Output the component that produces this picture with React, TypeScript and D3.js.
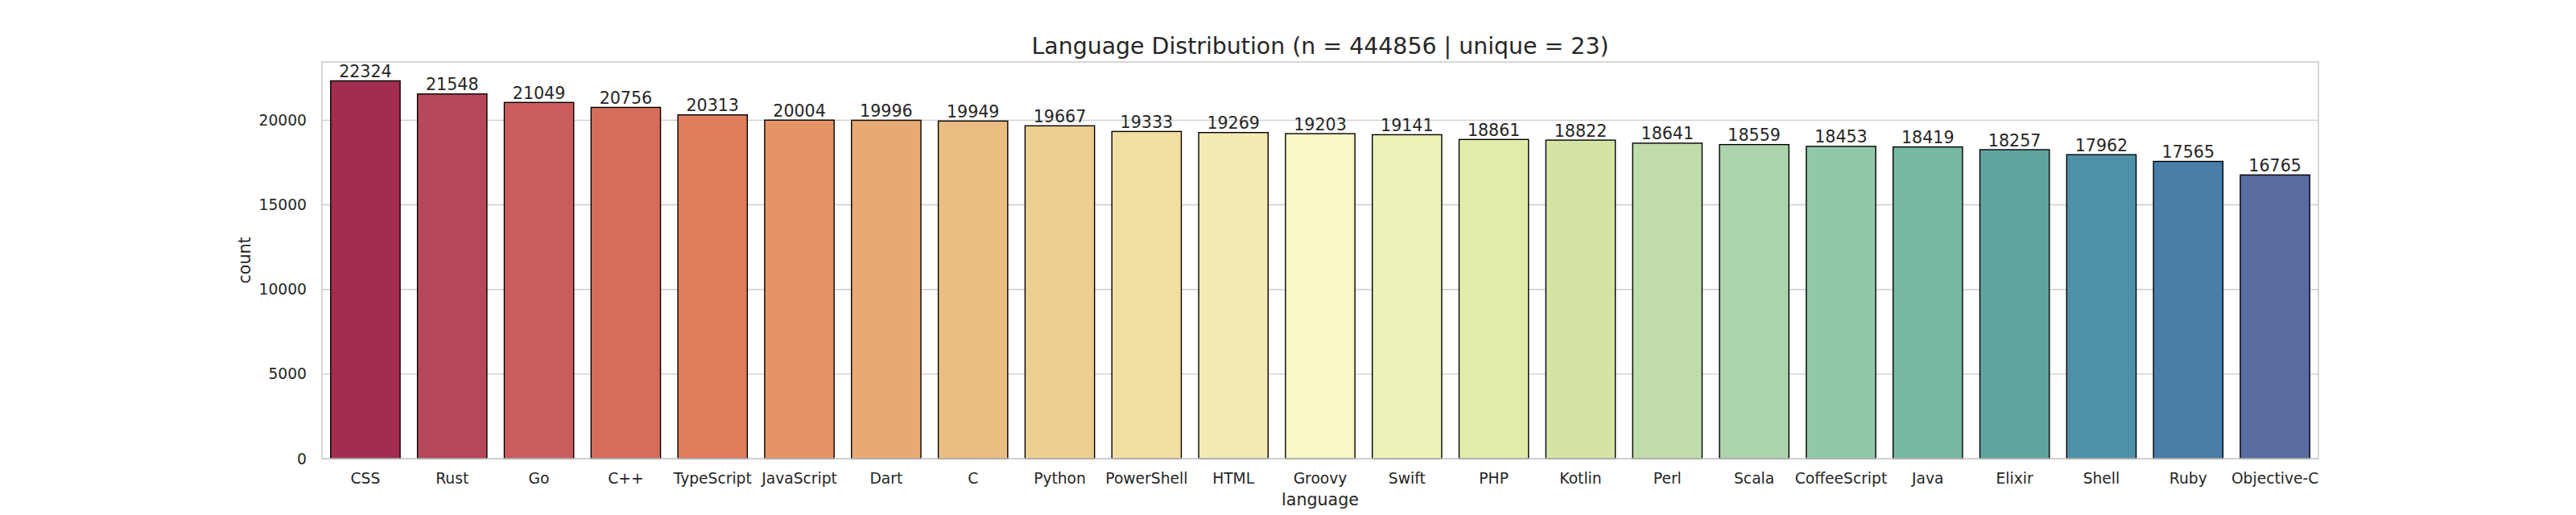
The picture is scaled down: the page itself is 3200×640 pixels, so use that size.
import * as d3 from "d3";
import { useEffect } from "react";

// bar categories and counts
const languages = [
  "CSS", "Rust", "Go", "C++", "TypeScript", "JavaScript", "Dart", "C",
  "Python", "PowerShell", "HTML", "Groovy", "Swift", "PHP", "Kotlin", "Perl",
  "Scala", "CoffeeScript", "Java", "Elixir", "Shell", "Ruby", "Objective-C",
];
const counts = [
  22324, 21548, 21049, 20756, 20313, 20004, 19996, 19949,
  19667, 19333, 19269, 19203, 19141, 18861, 18822, 18641,
  18559, 18453, 18419, 18257, 17962, 17565, 16765,
];
const yTicks = [0, 5000, 10000, 15000, 20000];
const spectral = [
  "#9e0142", "#d53e4f", "#f46d43", "#fdae61", "#fee08b", "#ffffbf",
  "#e6f598", "#abdda4", "#66c2a5", "#3288bd", "#5e4fa2",
];

const title = `Language Distribution (n = ${d3.sum(counts)} | unique = ${languages.length})`;

const width = 3200;
const height = 640;
const marginTop = 77;
const marginRight = 320;
const marginBottom = 70;
const marginLeft = 400;

const textColor = "#262626";
const font = "'DejaVu Sans', sans-serif";

// seaborn-like palette: sample the colormap, then desaturate a bit
const cmap = d3
  .scaleLinear<string>()
  .domain(d3.range(spectral.length).map((i) => i / (spectral.length - 1)))
  .range(spectral)
  .interpolate(d3.interpolateRgb);

function barColor(i: number) {
  const c = d3.hsl(cmap((i + 1) / (languages.length + 1)));
  c.s *= 0.75;
  return c.formatHex();
}

export default function App() {
  useEffect(() => {
    document.body.style.margin = "0";
  }, []);

  const x = d3
    .scaleBand()
    .domain(languages)
    .range([marginLeft, width - marginRight])
    .paddingInner(0.2)
    .paddingOuter(0.1);

  const yMax = d3.max(counts)! * 1.05;
  const y = d3
    .scaleLinear()
    .domain([0, yMax])
    .range([height - marginBottom, marginTop]);

  const left = marginLeft;
  const right = width - marginRight;
  const top = marginTop;
  const bottom = height - marginBottom;

  return (
    <svg width={width} height={height} style={{ display: "block", background: "white" }} fontFamily={font}>
      {/* horizontal grid */}
      {yTicks.map((t) => (
        <line key={t} x1={left} x2={right} y1={y(t)} y2={y(t)} stroke="#cccccc" strokeWidth={1.4} />
      ))}

      {/* bars */}
      {languages.map((lang, i) => (
        <rect
          key={lang}
          x={x(lang)}
          y={y(counts[i])}
          width={x.bandwidth()}
          height={y(0) - y(counts[i])}
          fill={barColor(i)}
          stroke="black"
          strokeWidth={1.4}
        />
      ))}

      {/* bar labels */}
      {languages.map((lang, i) => (
        <text
          key={lang}
          x={x(lang)! + x.bandwidth() / 2}
          y={y(counts[i]) - 4.5}
          textAnchor="middle"
          fontSize={20.6}
          fill={textColor}
        >
          {counts[i]}
        </text>
      ))}

      {/* axes frame */}
      <rect x={left} y={top} width={right - left} height={bottom - top} fill="none" stroke="#cccccc" strokeWidth={1.6} />

      {/* y ticks */}
      {yTicks.map((t) => (
        <text key={t} x={left - 19} y={y(t)} dy="0.35em" textAnchor="end" fontSize={18.7} fill={textColor}>
          {t}
        </text>
      ))}

      {/* x ticks */}
      {languages.map((lang) => (
        <text key={lang} x={x(lang)! + x.bandwidth() / 2} y={601} textAnchor="middle" fontSize={18.7} fill={textColor}>
          {lang}
        </text>
      ))}

      {/* axis labels */}
      <text x={(left + right) / 2} y={628} textAnchor="middle" fontSize={20.6} fill={textColor}>
        language
      </text>
      <text
        transform={`translate(311,${(top + bottom) / 2}) rotate(-90)`}
        textAnchor="middle"
        fontSize={20.6}
        fill={textColor}
      >
        count
      </text>

      <text x={(left + right) / 2} y={67} textAnchor="middle" fontSize={28.4} fill={textColor}>
        {title}
      </text>
    </svg>
  );
}
